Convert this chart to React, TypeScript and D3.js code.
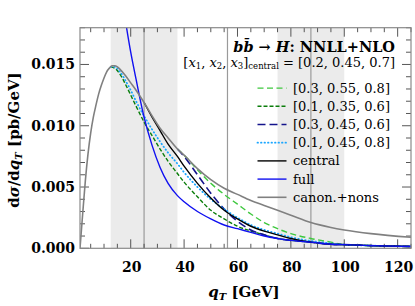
import React from "react";
import * as d3 from "d3";

// ---- data ----
const canonQT = [1,2,3,4,5,6,7,8,9,10,11,12,13,14,15,16,18,20,22,25,28,31,34,37.5,40,45,50,55,60,65,70,75,80,87.5,95,100,110,125];
const canonVals = [0,0.0028,0.0055,0.0077,0.0094,0.0107,0.0117,0.0126,0.0133,0.0139,0.0144,0.0147,0.0149,0.0149,0.0148,0.0146,0.0141,0.0135,0.0129,0.0119,0.0108,0.0098,0.0090,0.0081,0.0076,0.0065,0.0056,0.0049,0.0044,0.0039,0.0035,0.0031,0.0027,0.0021,0.0017,0.0015,0.0012,0.0009];

const fullQT = [17,18,20,22,25,28,31,34,37.5,40,45,50,55,60,65,70,75,80,87.5,95,100,110,125];
const fullVals = [0.0200,0.0186,0.0160,0.0138,0.0107,0.0084,0.0066,0.0053,0.0043,0.0038,0.0030,0.0024,0.0019,0.0016,0.0013,0.0010,0.0008,0.00065,0.0005,0.00033,0.0003,0.00022,0.00015];

const centralQT = [25,28,31,34,37.5,40,45,50,55,60,65,70,75,80,87.5,95,100,110,125];
const centralVals = [0.0119,0.0107,0.0096,0.0085,0.0075,0.0067,0.0053,0.0041,0.0031,0.0024,0.0018,0.0014,0.0011,0.0008,0.0005,0.00033,0.0003,0.00022,0.00015];

const lightBlueQT = [12.5,14,16,18,20,22,25,28,31,34,37.5,40,45,50,55,60,65,70,75,80,87.5,95,100,110,125];
const lightBlueVals = [0.0148,0.0148,0.0144,0.0137,0.0129,0.0120,0.0108,0.0097,0.0087,0.0078,0.0069,0.0062,0.0050,0.0040,0.0032,0.0025,0.0019,0.0015,0.0012,0.0009,0.0006,0.0004,0.0003,0.00022,0.00015];

const darkGreenQT = [12.5,14,16,18,20,22,25,28,31,34,37.5,40,45,50,55,60,65,70,75,80,87.5,95,100,110,125];
const darkGreenVals = [0.0148,0.0147,0.0142,0.0134,0.0125,0.0116,0.0103,0.0092,0.0081,0.0071,0.0061,0.0054,0.0042,0.0031,0.0024,0.0018,0.0014,0.0011,0.0008,0.00065,0.0005,0.00033,0.0003,0.00022,0.00015];

const darkBlueQT = [37.5,40,45,50,55,60,65,70,75,80,87.5,95,100,110,125];
const darkBlueVals = [0.0081,0.0075,0.0060,0.0045,0.0032,0.0022,0.0015,0.0011,0.0008,0.00065,0.0005,0.00033,0.0003,0.00022,0.00015];

const lightGreenQT = [37.5,40,45,50,55,60,65,70,75,80,87.5,95,100,110,125];
const lightGreenVals = [0.0081,0.0076,0.0064,0.0053,0.0044,0.0036,0.0028,0.0021,0.0016,0.0012,0.0008,0.0005,0.0003,0.00022,0.00015];

const legendLabels = ["[0.3, 0.55, 0.8]", "[0.1, 0.35, 0.6]", "[0.3, 0.45, 0.6]", "[0.1, 0.45, 0.8]", "central", "full", "canon.+nons"];
const xTickLabels = [20, 40, 60, 80, 100, 120];
const yTickLabels = [0, 0.005, 0.01, 0.015];
const bands = [[12.5, 37.5], [75, 100]];
const vLines = [25, 56.25, 87.5];

const W = 415, H = 306;
const L = 80, R = 411, T = 27.7, B = 248.3;

const series = [
  { qt: lightGreenQT, v: lightGreenVals, color: "#3fc83f", dash: "6,3.5", width: 1.4, cap: "butt" },
  { qt: darkGreenQT, v: darkGreenVals, color: "#0a7d0a", dash: "4,2", width: 1.4, cap: "butt" },
  { qt: darkBlueQT, v: darkBlueVals, color: "#14148c", dash: "8,4", width: 1.6, cap: "butt" },
  { qt: lightBlueQT, v: lightBlueVals, color: "#1aa6ff", dash: "0.5,3", width: 1.8, cap: "round" },
  { qt: centralQT, v: centralVals, color: "#000000", dash: null, width: 1.4, cap: "butt" },
  { qt: fullQT, v: fullVals, color: "#1010f0", dash: null, width: 1.4, cap: "butt" },
  { qt: canonQT, v: canonVals, color: "#808080", dash: null, width: 1.6, cap: "butt" },
];

export default function App() {
  const x = d3.scaleLinear().domain([1, 125]).range([L, R]);
  const y = d3.scaleLinear().domain([0, 0.018]).range([B, T]);
  const line = d3.line<[number, number]>().x(d => x(d[0])).y(d => y(d[1])).curve(d3.curveMonotoneX);

  const xMinor = d3.range(5, 126, 5);
  const yMinor = d3.range(0, 0.0181, 0.001);
  const serif = "'DejaVu Serif', serif";
  const tickCol = "#444";

  return (
    <svg width={W} height={H} style={{ position: "absolute", left: 0, top: 0, background: "#fff" }} fontFamily={serif}>
      <defs>
        <clipPath id="plotclip"><rect x={L} y={T} width={R - L} height={B - T} /></clipPath>
      </defs>
      {bands.map((b, i) => (
        <rect key={i} x={x(b[0])} y={T} width={x(b[1]) - x(b[0])} height={B - T} fill="#ebebeb" />
      ))}
      {vLines.map((v, i) => (
        <line key={i} x1={x(v)} x2={x(v)} y1={T} y2={B} stroke="#9a9a9a" strokeWidth={1.2} />
      ))}
      {/* ticks */}
      {xMinor.map(v => {
        const len = v % 20 === 0 ? 9 : 4.5;
        return (
          <g key={"xt" + v}>
            <line x1={x(v)} x2={x(v)} y1={B} y2={B - len} stroke={tickCol} strokeWidth={0.9} />
            <line x1={x(v)} x2={x(v)} y1={T} y2={T + len} stroke={tickCol} strokeWidth={0.9} />
          </g>
        );
      })}
      {yMinor.map((v, i) => {
        const len = i % 5 === 0 ? 9 : 5;
        return (
          <g key={"yt" + i}>
            <line x1={L} x2={L + len} y1={y(v)} y2={y(v)} stroke={tickCol} strokeWidth={0.9} />
            <line x1={R} x2={R - len} y1={y(v)} y2={y(v)} stroke={tickCol} strokeWidth={0.9} />
          </g>
        );
      })}
      {/* curves */}
      <g clipPath="url(#plotclip)">
        {series.map((s, i) => (
          <path key={i} d={line(s.qt.map((q, j) => [q, s.v[j]] as [number, number])) || ""} fill="none"
            stroke={s.color} strokeWidth={s.width} strokeDasharray={s.dash || undefined} strokeLinecap={s.cap as any} />
        ))}
      </g>
      <rect x={L} y={T} width={R - L} height={B - T} fill="none" stroke="#8a8a8a" strokeWidth={1.2} />
      {/* tick labels */}
      {xTickLabels.map(v => (
        <text key={"xl" + v} x={x(v) + 1} y={272} textAnchor="middle" fontSize={14} fontWeight="bold">{v}</text>
      ))}
      {yTickLabels.map(v => (
        <text key={"yl" + v} x={75} y={y(v) + 5} textAnchor="end" fontSize={14} fontWeight="bold">{d3.format(".3f")(v)}</text>
      ))}
      {/* axis labels */}
      <text x={244} y={297} textAnchor="middle" fontSize={15} fontWeight="bold">
        <tspan fontStyle="italic">q</tspan><tspan fontStyle="italic" fontSize={10} dy={3}>T</tspan><tspan dy={-3}> [GeV]</tspan>
      </text>
      <text transform="translate(19,140) rotate(-90)" textAnchor="middle" fontSize={15} fontWeight="bold">
        d<tspan fontStyle="italic">σ</tspan>/d<tspan fontStyle="italic">q</tspan><tspan fontStyle="italic" fontSize={10} dy={3}>T</tspan><tspan dy={-3}> [pb/GeV]</tspan>
      </text>
      {/* legend title */}
      <text x={395} y={51.5} textAnchor="end" fontSize={14.5} fontWeight="bold">
        <tspan fontStyle="italic">b</tspan><tspan fontStyle="italic">b̄</tspan> → <tspan fontStyle="italic">H</tspan>: NNLL+NLO
      </text>
      <text x={395} y={66.5} textAnchor="end" fontSize={13}>
        [<tspan fontStyle="italic">x</tspan><tspan fontSize={8.5} dy={2.5}>1</tspan><tspan dy={-2.5}>, </tspan><tspan fontStyle="italic">x</tspan><tspan fontSize={8.5} dy={2.5}>2</tspan><tspan dy={-2.5}>, </tspan><tspan fontStyle="italic">x</tspan><tspan fontSize={8.5} dy={2.5}>3</tspan><tspan dy={-2.5}>]</tspan><tspan fontSize={8.5} dy={2.5}>central</tspan><tspan dy={-2.5}> = [0.2, 0.45, 0.7]</tspan>
      </text>
      {legendLabels.map((lab, i) => {
        const s = series[i];
        const by = 92.6 + i * 18.2;
        return (
          <g key={"lg" + i}>
            <line x1={257.5} x2={286.5} y1={by - 4.5} y2={by - 4.5} stroke={s.color} strokeWidth={s.width}
              strokeDasharray={s.dash || undefined} strokeLinecap={s.cap as any} />
            <text x={293} y={by} fontSize={13}>{lab}</text>
          </g>
        );
      })}
    </svg>
  );
}
